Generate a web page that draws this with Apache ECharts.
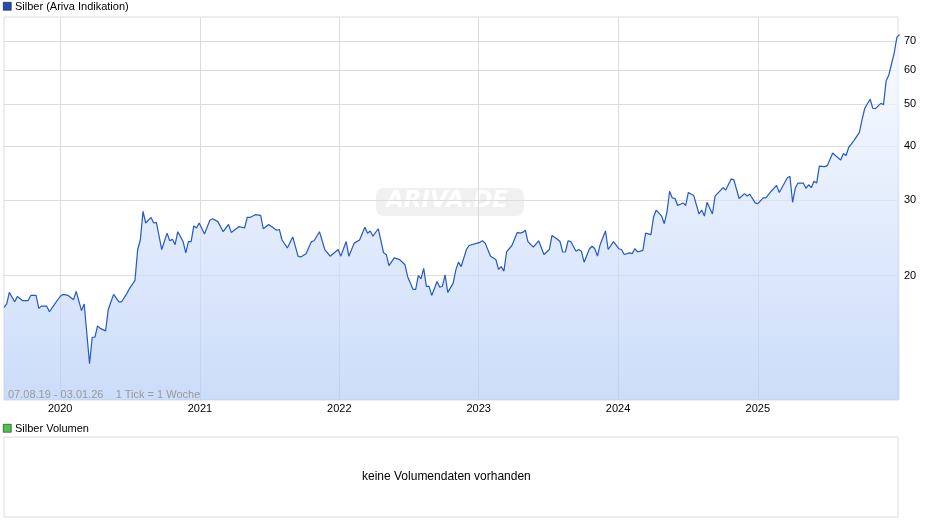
<!DOCTYPE html>
<html>
<head>
<meta charset="utf-8">
<script src="https://cdn.jsdelivr.net/npm/echarts@6/dist/echarts.min.js"></script>
<style>
  html, body { margin: 0; padding: 0; background: #fff; }
  #chart { width: 940px; height: 526px; }
</style>
</head>
<body>
<div id="chart"></div>
<script>
// weekly quotes, week number counted from 07.08.2019
var startDate = Date.UTC(2019, 7, 7);
var endDate = Date.UTC(2026, 0, 3);
var weeks = [0, 1, 2, 4, 5, 7, 9, 10, 12, 13, 14, 16, 17, 19, 21, 22, 24, 26, 27, 29, 30, 32, 33, 34, 35, 36, 38, 39, 41, 43, 44, 46, 47, 49, 50, 51, 52, 53, 55, 56, 57, 59, 61, 62, 63, 64, 65, 67, 68, 69, 70, 71, 72, 73, 75, 77, 78, 80, 82, 84, 85, 88, 90, 91, 92, 94, 96, 97, 99, 102, 103, 104, 106, 108, 110, 111, 113, 115, 116, 118, 120, 122, 125, 126, 128, 129, 131, 133, 135, 136, 137, 138, 140, 142, 143, 144, 146, 148, 150, 151, 153, 154, 155, 156, 157, 158, 159, 160, 162, 163, 164, 165, 166, 168, 169, 170, 171, 173, 174, 177, 178, 179, 180, 182, 184, 185, 186, 187, 188, 190, 192, 193, 194, 195, 196, 198, 200, 202, 204, 205, 207, 208, 209, 210, 211, 212, 214, 215, 216, 217, 219, 220, 221, 222, 223, 225, 226, 228, 230, 231, 232, 234, 235, 236, 237, 239, 240, 242, 243, 244, 246, 247, 248, 249, 250, 251, 252, 254, 255, 256, 258, 260, 261, 262, 263, 265, 266, 269, 270, 272, 273, 275, 277, 278, 279, 281, 282, 284, 285, 287, 289, 290, 293, 294, 295, 296, 297, 299, 300, 301, 302, 303, 304, 305, 307, 308, 310, 311, 313, 314, 315, 316, 318, 320, 321, 322, 324, 325, 326, 328, 329, 330, 331, 333, 334, 335];
var prices = [16.9, 17.2, 18.3, 17.4, 17.9, 17.5, 17.5, 18.0, 18.0, 16.8, 17.0, 17.0, 16.5, 17.2, 17.9, 18.1, 18.0, 17.6, 18.4, 16.6, 17.2, 12.5, 14.4, 14.4, 15.3, 15.1, 14.9, 16.7, 18.1, 17.4, 17.4, 18.2, 18.7, 19.5, 23.0, 24.2, 28.2, 26.5, 27.3, 26.5, 26.6, 23.0, 25.1, 24.1, 24.3, 23.6, 25.3, 24.0, 22.6, 24.0, 24.0, 26.1, 25.8, 26.5, 25.0, 26.9, 27.1, 26.7, 25.3, 26.3, 25.2, 26.0, 25.8, 27.3, 27.3, 27.7, 27.6, 25.7, 26.3, 25.5, 25.6, 24.2, 23.2, 24.6, 22.2, 22.1, 22.5, 24.0, 24.1, 25.3, 23.0, 22.2, 23.0, 22.2, 24.0, 22.2, 23.8, 24.2, 25.9, 25.1, 25.4, 24.7, 25.7, 22.6, 22.4, 21.1, 22.0, 21.8, 21.2, 19.9, 18.6, 18.6, 20.0, 19.7, 20.8, 18.9, 18.9, 18.0, 19.4, 18.8, 18.9, 20.1, 18.3, 19.2, 20.6, 21.5, 21.0, 23.0, 23.5, 23.8, 23.9, 24.1, 23.8, 22.2, 21.8, 20.7, 21.0, 20.5, 22.7, 23.5, 25.2, 25.1, 25.2, 25.5, 24.0, 23.3, 24.1, 22.4, 23.0, 24.8, 24.3, 24.0, 22.7, 22.7, 24.1, 24.0, 22.8, 23.0, 22.8, 21.5, 23.1, 23.4, 23.1, 22.2, 23.6, 25.4, 23.0, 24.0, 23.1, 23.0, 22.4, 22.6, 22.5, 23.1, 22.7, 22.9, 25.1, 24.9, 27.4, 28.4, 27.5, 26.4, 28.1, 31.4, 30.3, 30.2, 29.1, 29.5, 29.1, 31.2, 30.7, 27.8, 28.4, 27.5, 29.6, 27.8, 30.6, 32.0, 31.6, 33.5, 33.4, 30.2, 31.0, 30.6, 30.9, 29.5, 29.4, 30.3, 30.3, 31.4, 32.4, 31.2, 33.7, 34.0, 29.6, 31.9, 32.8, 32.8, 31.9, 32.5, 32.0, 33.1, 32.8, 35.9, 35.8, 36.0, 38.5, 38.0, 37.1, 38.4, 38.0, 39.7, 41.2, 43.0, 46.1, 48.9, 51.3, 48.9, 48.8, 50.2, 49.8, 56.6, 58.4, 65.6, 71.4, 72.5];
var priceTicks = [20, 30, 40, 50, 60, 70];
var yearTicks = ['2020', '2021', '2022', '2023', '2024', '2025'];

var series = weeks.map(function (w, i) {
  return [startDate + w * 7 * 86400000, prices[i]];
});

var gridColor = '#dcdcdc';
var labelFont = { color: '#000', fontSize: 11, fontFamily: 'Liberation Sans, Arial' };

var chart = echarts.init(document.getElementById('chart'));
chart.setOption({
  animation: false,
  grid: [
    { left: 4, right: 42, top: 17, height: 383, show: true, borderColor: gridColor, borderWidth: 1 },
    { left: 4, right: 42, top: 437, height: 80, show: true, borderColor: gridColor, borderWidth: 1 }
  ],
  xAxis: [
    { type: 'time', gridIndex: 0, min: startDate, max: endDate,
      axisLine: { show: false }, axisTick: { show: false }, axisLabel: { show: false }, splitLine: { show: false } },
    { type: 'value', gridIndex: 1, show: false, min: 0, max: 1 }
  ],
  yAxis: [
    { type: 'log', gridIndex: 0, min: 10.3, max: 79.6, show: false },
    { type: 'value', gridIndex: 1, show: false, min: 0, max: 1 }
  ],
  graphic: [
    { type: 'rect', left: 3, top: 2, shape: { width: 8, height: 8 }, style: { fill: '#1f4fb4', stroke: '#000', lineWidth: 0.5 } },
    { type: 'text', left: 15, top: 1, style: { text: 'Silber (Ariva Indikation)', fill: '#000', font: '11px Liberation Sans, Arial' } },
    { type: 'rect', left: 3, top: 424, shape: { width: 8, height: 8 }, style: { fill: '#4cc44c', stroke: '#000', lineWidth: 0.5 } },
    { type: 'text', left: 15, top: 423, style: { text: 'Silber Volumen', fill: '#000', font: '11px Liberation Sans, Arial' } },
    { type: 'text', left: 8, top: 389, z: 10, style: { text: '07.08.19 - 03.01.26    1 Tick = 1 Woche', fill: '#999', font: '11px Liberation Sans, Arial' } },
    { type: 'text', left: 362, top: 471, style: { text: 'keine Volumendaten vorhanden', fill: '#000', font: '12px Liberation Sans, Arial' } },
    { type: 'rect', left: 376, top: 188, z: 0, shape: { width: 148, height: 28, r: 8 }, style: { fill: '#f0f0f0' } },
    { type: 'text', left: 386, top: 190, z: 1, style: { text: 'ARIVA.DE', fill: '#ffffff', font: 'italic bold 23px DejaVu Sans, Arial' } }
  ],
  series: [{
    type: 'line',
    xAxisIndex: 0, yAxisIndex: 0,
    data: series,
    symbol: 'none',
    z: 5,
    lineStyle: { color: '#2358c6', width: 1.2 },
    areaStyle: {
      origin: 'start',
      color: new echarts.graphic.LinearGradient(0, 0, 0, 1, [
        { offset: 0, color: '#f6f9ff' },
        { offset: 1, color: '#b5cdf6' }
      ])
    },
    markLine: {
      silent: true, symbol: 'none', animation: false,
      lineStyle: { color: gridColor, type: 'solid', width: 1 },
      data: priceTicks.map(function (v) {
        return { yAxis: v, label: Object.assign({ position: 'end', formatter: String(v), distance: 6 }, labelFont) };
      }).concat(yearTicks.map(function (y) {
        return { xAxis: Date.UTC(+y, 0, 1), label: Object.assign({ position: 'start', formatter: y, distance: 3 }, labelFont) };
      }))
    }
  }]
});
</script>
</body>
</html>
